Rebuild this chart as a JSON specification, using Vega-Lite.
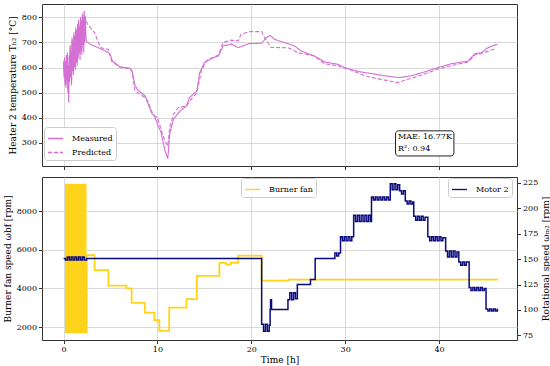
{
"$schema": "https://vega.github.io/schema/vega-lite/v6.json",
"padding": {"left": 2, "top": 3, "right": 0, "bottom": 2},
"spacing": 5,
"datasets": {
"temp": [
{"t":0.0,"v":625,"series":"Measured"},{"t":0.05,"v":560,"series":"Measured"},{"t":0.1,"v":640,"series":"Measured"},{"t":0.15,"v":530,"series":"Measured"},{"t":0.2,"v":615,"series":"Measured"},{"t":0.25,"v":520,"series":"Measured"},{"t":0.3,"v":650,"series":"Measured"},{"t":0.35,"v":545,"series":"Measured"},{"t":0.4,"v":660,"series":"Measured"},{"t":0.45,"v":500,"series":"Measured"},{"t":0.5,"v":600,"series":"Measured"},{"t":0.55,"v":460,"series":"Measured"},{"t":0.6,"v":640,"series":"Measured"},{"t":0.65,"v":545,"series":"Measured"},{"t":0.7,"v":690,"series":"Measured"},{"t":0.75,"v":560,"series":"Measured"},{"t":0.8,"v":660,"series":"Measured"},{"t":0.85,"v":530,"series":"Measured"},{"t":0.9,"v":720,"series":"Measured"},{"t":0.95,"v":585,"series":"Measured"},{"t":1.0,"v":700,"series":"Measured"},{"t":1.05,"v":570,"series":"Measured"},{"t":1.1,"v":740,"series":"Measured"},{"t":1.15,"v":600,"series":"Measured"},{"t":1.2,"v":720,"series":"Measured"},{"t":1.25,"v":590,"series":"Measured"},{"t":1.3,"v":760,"series":"Measured"},{"t":1.35,"v":620,"series":"Measured"},{"t":1.4,"v":745,"series":"Measured"},{"t":1.45,"v":605,"series":"Measured"},{"t":1.5,"v":775,"series":"Measured"},{"t":1.55,"v":635,"series":"Measured"},{"t":1.6,"v":790,"series":"Measured"},{"t":1.65,"v":660,"series":"Measured"},{"t":1.7,"v":765,"series":"Measured"},{"t":1.75,"v":630,"series":"Measured"},{"t":1.8,"v":800,"series":"Measured"},{"t":1.85,"v":665,"series":"Measured"},{"t":1.9,"v":785,"series":"Measured"},{"t":1.95,"v":650,"series":"Measured"},{"t":2.0,"v":815,"series":"Measured"},{"t":2.05,"v":690,"series":"Measured"},{"t":2.1,"v":795,"series":"Measured"},{"t":2.15,"v":660,"series":"Measured"},{"t":2.2,"v":825,"series":"Measured"},{"t":2.25,"v":700,"series":"Measured"},{"t":2.3,"v":805,"series":"Measured"},{"t":2.4,"v":710,"series":"Measured"},
{"t":2.46,"v":703,"series":"Measured"},{"t":3.0,"v":690,"series":"Measured"},{"t":3.7,"v":679,"series":"Measured"},{"t":4.8,"v":659,"series":"Measured"},{"t":5.0,"v":648,"series":"Measured"},{"t":5.2,"v":626,"series":"Measured"},{"t":6.0,"v":603,"series":"Measured"},{"t":7.1,"v":597,"series":"Measured"},{"t":7.3,"v":585,"series":"Measured"},{"t":7.6,"v":530,"series":"Measured"},{"t":7.9,"v":510,"series":"Measured"},{"t":8.7,"v":487,"series":"Measured"},{"t":8.9,"v":465,"series":"Measured"},{"t":9.4,"v":418,"series":"Measured"},{"t":9.7,"v":405,"series":"Measured"},{"t":10.1,"v":365,"series":"Measured"},{"t":10.4,"v":340,"series":"Measured"},{"t":10.8,"v":268,"series":"Measured"},{"t":11.1,"v":237,"series":"Measured"},{"t":11.3,"v":335,"series":"Measured"},{"t":11.7,"v":394,"series":"Measured"},{"t":12.4,"v":427,"series":"Measured"},{"t":13.1,"v":447,"series":"Measured"},{"t":13.4,"v":480,"series":"Measured"},{"t":14.2,"v":507,"series":"Measured"},{"t":14.5,"v":580,"series":"Measured"},{"t":15.0,"v":620,"series":"Measured"},{"t":16.0,"v":640,"series":"Measured"},{"t":16.5,"v":646,"series":"Measured"},{"t":17.0,"v":686,"series":"Measured"},{"t":17.9,"v":693,"series":"Measured"},{"t":18.6,"v":679,"series":"Measured"},{"t":19.7,"v":695,"series":"Measured"},{"t":21.1,"v":697,"series":"Measured"},{"t":21.6,"v":719,"series":"Measured"},{"t":22.0,"v":728,"series":"Measured"},{"t":22.5,"v":712,"series":"Measured"},{"t":23.7,"v":697,"series":"Measured"},{"t":24.6,"v":686,"series":"Measured"},{"t":25.3,"v":666,"series":"Measured"},{"t":26.7,"v":646,"series":"Measured"},{"t":27.8,"v":622,"series":"Measured"},{"t":29.2,"v":613,"series":"Measured"},{"t":29.9,"v":600,"series":"Measured"},{"t":31.4,"v":584,"series":"Measured"},{"t":32.8,"v":576,"series":"Measured"},{"t":34.2,"v":567,"series":"Measured"},{"t":35.8,"v":560,"series":"Measured"},{"t":37.0,"v":567,"series":"Measured"},{"t":38.4,"v":582,"series":"Measured"},{"t":39.9,"v":600,"series":"Measured"},{"t":41.3,"v":615,"series":"Measured"},{"t":43.1,"v":626,"series":"Measured"},{"t":43.8,"v":655,"series":"Measured"},{"t":44.5,"v":659,"series":"Measured"},{"t":45.2,"v":679,"series":"Measured"},{"t":45.9,"v":689,"series":"Measured"},{"t":46.2,"v":692,"series":"Measured"},
{"t":0.0,"v":610,"series":"Predicted"},{"t":0.05,"v":580,"series":"Predicted"},{"t":0.1,"v":630,"series":"Predicted"},{"t":0.15,"v":545,"series":"Predicted"},{"t":0.2,"v":625,"series":"Predicted"},{"t":0.25,"v":535,"series":"Predicted"},{"t":0.3,"v":640,"series":"Predicted"},{"t":0.35,"v":555,"series":"Predicted"},{"t":0.4,"v":650,"series":"Predicted"},{"t":0.45,"v":520,"series":"Predicted"},{"t":0.5,"v":610,"series":"Predicted"},{"t":0.55,"v":540,"series":"Predicted"},{"t":0.6,"v":650,"series":"Predicted"},{"t":0.65,"v":560,"series":"Predicted"},{"t":0.7,"v":680,"series":"Predicted"},{"t":0.75,"v":575,"series":"Predicted"},{"t":0.8,"v":670,"series":"Predicted"},{"t":0.85,"v":550,"series":"Predicted"},{"t":0.9,"v":710,"series":"Predicted"},{"t":0.95,"v":600,"series":"Predicted"},{"t":1.0,"v":710,"series":"Predicted"},{"t":1.05,"v":585,"series":"Predicted"},{"t":1.1,"v":730,"series":"Predicted"},{"t":1.15,"v":615,"series":"Predicted"},{"t":1.2,"v":725,"series":"Predicted"},{"t":1.25,"v":605,"series":"Predicted"},{"t":1.3,"v":750,"series":"Predicted"},{"t":1.35,"v":635,"series":"Predicted"},{"t":1.4,"v":750,"series":"Predicted"},{"t":1.45,"v":620,"series":"Predicted"},{"t":1.5,"v":765,"series":"Predicted"},{"t":1.55,"v":650,"series":"Predicted"},{"t":1.6,"v":780,"series":"Predicted"},{"t":1.65,"v":670,"series":"Predicted"},{"t":1.7,"v":770,"series":"Predicted"},{"t":1.75,"v":650,"series":"Predicted"},{"t":1.8,"v":790,"series":"Predicted"},{"t":1.85,"v":680,"series":"Predicted"},{"t":1.9,"v":790,"series":"Predicted"},{"t":1.95,"v":670,"series":"Predicted"},{"t":2.0,"v":805,"series":"Predicted"},{"t":2.05,"v":700,"series":"Predicted"},{"t":2.1,"v":800,"series":"Predicted"},{"t":2.15,"v":690,"series":"Predicted"},{"t":2.2,"v":815,"series":"Predicted"},{"t":2.25,"v":720,"series":"Predicted"},{"t":2.3,"v":800,"series":"Predicted"},{"t":2.4,"v":790,"series":"Predicted"},
{"t":2.5,"v":775,"series":"Predicted"},{"t":3.3,"v":739,"series":"Predicted"},{"t":3.7,"v":700,"series":"Predicted"},{"t":4.0,"v":679,"series":"Predicted"},{"t":4.8,"v":672,"series":"Predicted"},{"t":5.1,"v":626,"series":"Predicted"},{"t":6.0,"v":600,"series":"Predicted"},{"t":7.0,"v":595,"series":"Predicted"},{"t":7.3,"v":585,"series":"Predicted"},{"t":7.6,"v":507,"series":"Predicted"},{"t":8.7,"v":480,"series":"Predicted"},{"t":9.0,"v":465,"series":"Predicted"},{"t":9.5,"v":414,"series":"Predicted"},{"t":10.0,"v":400,"series":"Predicted"},{"t":10.5,"v":340,"series":"Predicted"},{"t":10.8,"v":308,"series":"Predicted"},{"t":11.1,"v":288,"series":"Predicted"},{"t":11.3,"v":360,"series":"Predicted"},{"t":11.7,"v":414,"series":"Predicted"},{"t":12.2,"v":440,"series":"Predicted"},{"t":13.1,"v":447,"series":"Predicted"},{"t":13.5,"v":470,"series":"Predicted"},{"t":14.2,"v":500,"series":"Predicted"},{"t":14.7,"v":590,"series":"Predicted"},{"t":15.3,"v":630,"series":"Predicted"},{"t":16.5,"v":650,"series":"Predicted"},{"t":17.0,"v":700,"series":"Predicted"},{"t":17.9,"v":709,"series":"Predicted"},{"t":18.6,"v":706,"series":"Predicted"},{"t":18.9,"v":732,"series":"Predicted"},{"t":19.8,"v":743,"series":"Predicted"},{"t":21.1,"v":743,"series":"Predicted"},{"t":21.4,"v":719,"series":"Predicted"},{"t":22.1,"v":680,"series":"Predicted"},{"t":23.9,"v":679,"series":"Predicted"},{"t":25.0,"v":659,"series":"Predicted"},{"t":26.7,"v":646,"series":"Predicted"},{"t":27.8,"v":615,"series":"Predicted"},{"t":29.2,"v":607,"series":"Predicted"},{"t":30.6,"v":590,"series":"Predicted"},{"t":32.1,"v":567,"series":"Predicted"},{"t":33.8,"v":553,"series":"Predicted"},{"t":35.6,"v":540,"series":"Predicted"},{"t":36.7,"v":553,"series":"Predicted"},{"t":38.2,"v":571,"series":"Predicted"},{"t":39.9,"v":594,"series":"Predicted"},{"t":41.3,"v":608,"series":"Predicted"},{"t":43.1,"v":622,"series":"Predicted"},{"t":43.8,"v":650,"series":"Predicted"},{"t":44.5,"v":655,"series":"Predicted"},{"t":45.7,"v":672,"series":"Predicted"},{"t":46.0,"v":675,"series":"Predicted"}
],
"box": [{"t":35.36,"t2":41.58,"v":348,"v2":248}],
"note": [{"t":35.62,"v":322,"label":"MAE: 16.77K"},{"t":35.62,"v":277,"label":"R²: 0.94"}],
"fan": [
{"t":0.15,"v":1720},{"t":0.25,"v":9380},{"t":0.35,"v":1720},{"t":0.45,"v":9380},{"t":0.55,"v":1720},{"t":0.65,"v":9380},{"t":0.75,"v":1720},{"t":0.85,"v":9380},{"t":0.95,"v":1720},{"t":1.05,"v":9380},{"t":1.15,"v":1720},{"t":1.25,"v":9380},{"t":1.35,"v":1720},{"t":1.45,"v":9380},{"t":1.55,"v":1720},{"t":1.65,"v":9380},{"t":1.75,"v":1720},{"t":1.85,"v":9380},{"t":1.95,"v":1720},{"t":2.05,"v":9380},{"t":2.15,"v":1720},{"t":2.25,"v":9380},{"t":2.35,"v":1720},
{"t":2.45,"v":5720},{"t":3.3,"v":4950},{"t":4.77,"v":4150},{"t":6.7,"v":4000},{"t":7.25,"v":3250},{"t":8.66,"v":2750},{"t":9.66,"v":2350},{"t":10.2,"v":1800},{"t":11.25,"v":3000},{"t":13.1,"v":3450},{"t":14.2,"v":4650},{"t":16.6,"v":5320},{"t":17.3,"v":5230},{"t":17.8,"v":5330},{"t":18.6,"v":5700},{"t":21.1,"v":4400},{"t":24.0,"v":4460},{"t":46.3,"v":4460}
],
"motor": [
{"t":0.0,"v":150.5},{"t":0.2,"v":149},{"t":0.4,"v":152},{"t":0.6,"v":149},{"t":0.8,"v":152},{"t":1.0,"v":149},{"t":1.2,"v":152},{"t":1.4,"v":149},{"t":1.6,"v":152},{"t":1.8,"v":149},{"t":2.0,"v":152},{"t":2.2,"v":149},{"t":2.45,"v":150.5},
{"t":21.1,"v":86},{"t":21.3,"v":79},{"t":21.5,"v":86},{"t":21.7,"v":79},{"t":21.9,"v":85},{"t":22.0,"v":100.5},{"t":22.05,"v":110},{"t":22.15,"v":100.5},
{"t":23.9,"v":110},{"t":24.1,"v":117},{"t":24.3,"v":110},{"t":24.5,"v":117},{"t":24.7,"v":111},{"t":24.9,"v":125},{"t":26.3,"v":130},{"t":26.8,"v":150.5},
{"t":28.9,"v":156},{"t":29.1,"v":153},{"t":29.3,"v":156},
{"t":29.5,"v":172},{"t":29.7,"v":168},{"t":29.9,"v":172},{"t":30.1,"v":168},{"t":30.3,"v":172},{"t":30.5,"v":168},{"t":30.7,"v":172},
{"t":30.9,"v":193},{"t":31.1,"v":187},{"t":31.3,"v":193},{"t":31.5,"v":187},{"t":31.7,"v":193},{"t":31.9,"v":187},{"t":32.1,"v":193},{"t":32.3,"v":187},{"t":32.5,"v":193},{"t":32.7,"v":187},
{"t":32.8,"v":211},{"t":33.0,"v":208},{"t":33.2,"v":211},{"t":33.4,"v":208},{"t":33.6,"v":211},{"t":33.8,"v":208},{"t":34.0,"v":211},{"t":34.2,"v":208},{"t":34.4,"v":211},{"t":34.6,"v":208},
{"t":34.8,"v":224},{"t":35.0,"v":218},{"t":35.2,"v":224},{"t":35.4,"v":218},{"t":35.6,"v":223},
{"t":35.8,"v":217},{"t":36.0,"v":214},{"t":36.2,"v":217},
{"t":36.4,"v":207},{"t":36.6,"v":204},{"t":36.8,"v":207},{"t":37.0,"v":204},{"t":37.2,"v":206},
{"t":37.3,"v":192},{"t":37.5,"v":188},{"t":37.7,"v":192},{"t":37.9,"v":188},{"t":38.1,"v":192},{"t":38.3,"v":188},{"t":38.5,"v":191},
{"t":38.8,"v":172},{"t":39.0,"v":168},{"t":39.2,"v":172},{"t":39.4,"v":168},{"t":39.6,"v":172},{"t":39.8,"v":168},{"t":40.0,"v":172},{"t":40.2,"v":168},{"t":40.4,"v":171},
{"t":40.7,"v":158},{"t":40.9,"v":152},{"t":41.1,"v":158},{"t":41.3,"v":152},{"t":41.5,"v":158},{"t":41.7,"v":152},{"t":41.9,"v":157},
{"t":42.1,"v":147},{"t":42.3,"v":144},{"t":42.5,"v":147},{"t":42.7,"v":144},{"t":42.9,"v":147},
{"t":43.2,"v":122},{"t":43.4,"v":119},{"t":43.6,"v":122},{"t":43.8,"v":119},{"t":44.0,"v":122},{"t":44.2,"v":119},{"t":44.4,"v":122},{"t":44.6,"v":119},{"t":44.8,"v":121},
{"t":45.0,"v":101},{"t":45.2,"v":99},{"t":45.4,"v":101},{"t":45.6,"v":99},{"t":45.8,"v":101},{"t":46.0,"v":99},{"t":46.2,"v":100.5},{"t":46.3,"v":100.5}
]
},
"vconcat": [
{
"width": 475, "height": 162,
"encoding": {
"x": {"field": "t", "type": "quantitative", "scale": {"domain": [-2.3, 48.3], "nice": false, "zero": false}, "axis": {"values": [0,10,20,30,40], "labels": false, "title": null, "grid": true}},
"y": {"field": "v", "type": "quantitative", "scale": {"domain": [208, 853], "nice": false, "zero": false}, "axis": {"values": [300,400,500,600,700,800], "format": "d", "labelOverlap": false, "title": "Heater 2 temperature Tₕ₂ [°C]", "grid": true}}
},
"layer": [
{"data": {"name": "temp"}, "mark": {"type": "line", "strokeWidth": 1.1},
"encoding": {
"color": {"field": "series", "type": "nominal", "scale": {"domain": ["Measured","Predicted"], "range": ["#d46fd4","#d46fd4"]}, "legend": {"title": null, "orient": "none", "legendX": 2, "legendY": 123}},
"strokeDash": {"field": "series", "type": "nominal", "scale": {"domain": ["Measured","Predicted"], "range": [[1,0],[4,2]]}, "legend": {"title": null, "orient": "none", "legendX": 2, "legendY": 123}}
}},
{"data": {"name": "box"}, "mark": {"type": "rect", "fill": "white", "stroke": "#222", "strokeWidth": 1, "cornerRadius": 3},
"encoding": {"x2": {"field": "t2"}, "y2": {"field": "v2"}}},
{"data": {"name": "note"}, "mark": {"type": "text", "align": "left", "baseline": "middle", "fontSize": 8, "font": "DejaVu Serif", "color": "#000"},
"encoding": {"text": {"field": "label"}}}
]
},
{
"width": 475, "height": 163,
"layer": [
{"data": {"name": "fan"}, "mark": {"type": "line", "interpolate": "step-after", "strokeWidth": 1.8},
"encoding": {
"x": {"field": "t", "type": "quantitative", "scale": {"domain": [-2.3, 48.3], "nice": false, "zero": false}, "axis": {"values": [0,10,20,30,40], "title": "Time [h]", "titlePadding": 2, "grid": true}},
"y": {"field": "v", "type": "quantitative", "scale": {"domain": [1327, 9775], "nice": false, "zero": false}, "axis": {"orient": "left", "values": [2000,4000,6000,8000], "format": "d", "labelOverlap": false, "title": "Burner fan speed ωbf [rpm]", "grid": true}},
"color": {"datum": "Burner fan", "type": "nominal", "scale": {"range": ["#ffd31a"]}, "legend": {"title": null, "orient": "none", "legendX": 199, "legendY": 1}}
}},
{"data": {"name": "motor"}, "mark": {"type": "line", "interpolate": "step-after", "strokeWidth": 1.5},
"encoding": {
"x": {"field": "t", "type": "quantitative", "scale": {"domain": [-2.3, 48.3], "nice": false, "zero": false}},
"y": {"field": "v", "type": "quantitative", "scale": {"domain": [70.5, 230.6], "nice": false, "zero": false}, "axis": {"orient": "right", "values": [75,100,125,150,175,200,225], "format": "d", "labelOverlap": false, "title": "Rotational speed ωₘ₂ [rpm]", "titleAngle": 270, "titleBaseline": "top", "grid": false}},
"color": {"datum": "Motor 2", "type": "nominal", "scale": {"range": ["#0b0b80"]}, "legend": {"title": null, "orient": "none", "legendX": 406, "legendY": 1}}
}}
],
"resolve": {"scale": {"y": "independent", "color": "independent"}}
}
],
"config": {
"font": "DejaVu Serif",
"view": {"stroke": "#333", "strokeWidth": 1},
"axis": {"labelFont": "DejaVu Serif", "titleFont": "DejaVu Serif", "labelFontSize": 8, "titleFontSize": 9, "titleFontWeight": "normal", "labelColor": "#000", "titleColor": "#000", "tickColor": "#333", "tickSize": 3.5, "gridColor": "#d0d0d0", "gridWidth": 0.8, "domain": false, "labelPadding": 2, "titlePadding": 4},
"legend": {"labelFont": "DejaVu Serif", "labelFontSize": 8, "labelColor": "#000", "symbolType": "stroke", "symbolSize": 225, "symbolStrokeWidth": 1.3, "strokeColor": "#cccccc", "fillColor": "white", "padding": 3, "cornerRadius": 3, "rowPadding": 1, "labelOffset": 8}
}
}
